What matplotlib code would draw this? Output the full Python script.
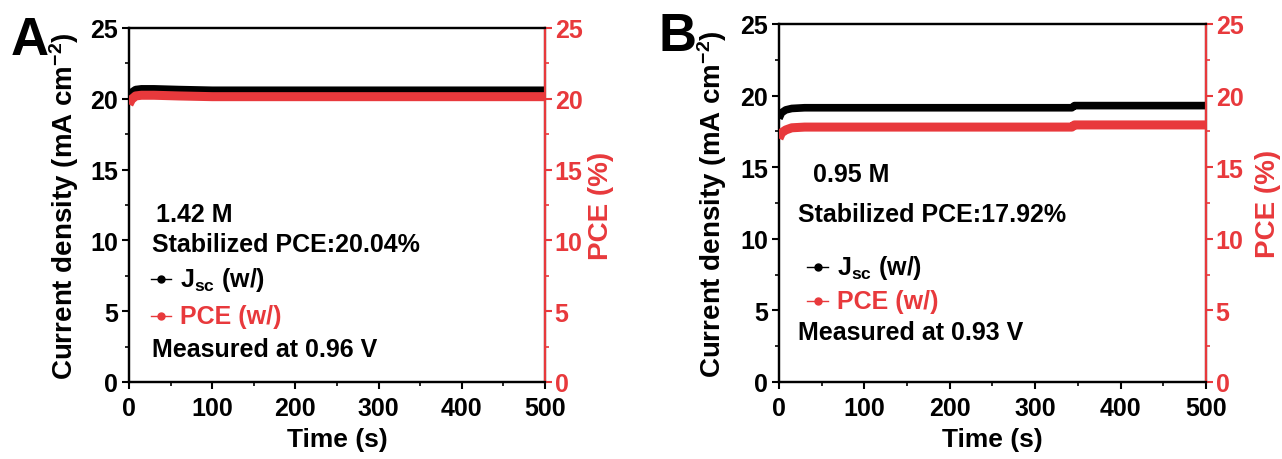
import matplotlib
matplotlib.use("Agg")
import matplotlib.pyplot as plt
from matplotlib.ticker import MultipleLocator

plt.rcParams['font.family'] = ['Liberation Sans', 'DejaVu Sans']
plt.rcParams['font.weight'] = 'bold'
plt.rcParams['mathtext.fontset'] = 'custom'
plt.rcParams['mathtext.rm'] = 'Liberation Sans:bold'
plt.rcParams['mathtext.it'] = 'Liberation Sans:bold'
plt.rcParams['mathtext.bf'] = 'Liberation Sans:bold'

RED = '#e8393c'

# panel A (1.42 M)
time_a = [0, 3, 8, 15, 30, 60, 100, 150, 200, 300, 400, 500]
jsc_a = [19.9, 20.45, 20.65, 20.7, 20.7, 20.65, 20.6, 20.6, 20.6, 20.6, 20.6, 20.6]
pce_a = [19.6, 19.95, 20.2, 20.25, 20.25, 20.2, 20.15, 20.15, 20.15, 20.15, 20.15, 20.15]

# panel B (0.95 M)
time_b = [0, 3, 8, 15, 30, 100, 200, 300, 343, 346, 400, 500]
jsc_b = [18.4, 18.8, 19.0, 19.1, 19.15, 19.15, 19.15, 19.15, 19.15, 19.3, 19.3, 19.3]
pce_b = [17.0, 17.4, 17.6, 17.75, 17.8, 17.8, 17.8, 17.8, 17.8, 17.95, 17.95, 17.95]

fig = plt.figure(figsize=(12.82, 4.6), dpi=100)


def panel(rect, t, jsc, pce, letter, letter_pos, conc, pce_txt, volt, txt_pos, ylab_x, rlab_x):
    ax = fig.add_axes(rect)
    ax2 = ax.twinx()
    ax.plot(t, jsc, color='black', lw=5.5, solid_capstyle='butt', zorder=2)
    ax2.plot(t, pce, color=RED, lw=6.5, solid_capstyle='butt', zorder=3)
    for a in (ax, ax2):
        a.set_xlim(0, 500)
        a.set_ylim(0, 25)
        a.yaxis.set_major_locator(MultipleLocator(5))
        a.yaxis.set_minor_locator(MultipleLocator(2.5))
        for s in a.spines.values():
            s.set_linewidth(1.6)
    ax.xaxis.set_major_locator(MultipleLocator(100))
    ax.xaxis.set_minor_locator(MultipleLocator(50))
    ax2.spines['right'].set_color(RED)
    ax.tick_params(which='major', direction='out', length=5, width=1.5, labelsize=18, pad=3)
    ax.tick_params(axis='x', which='major', pad=5)
    ax.tick_params(which='minor', direction='out', length=3, width=1.2)
    ax2.tick_params(which='major', direction='out', length=5, width=1.5, labelsize=18,
                    colors=RED, pad=2)
    ax2.tick_params(which='minor', direction='out', length=3, width=1.2, colors=RED)
    ax.set_xlabel('Time (s)', fontsize=19, fontweight='bold', labelpad=5)
    ax.set_ylabel('Current density (mA cm$^{-2}$)', fontsize=20, fontweight='bold')
    ax2.set_ylabel('PCE (%)', fontsize=20, fontweight='bold', color=RED)
    ax.yaxis.set_label_coords(ylab_x, 0.5)
    ax2.yaxis.set_label_coords(rlab_x, 0.5)

    (cx, cy), (sx, sy), (lx, ly1, ly2), (mx, my) = txt_pos
    ax2.text(cx, cy, conc, transform=ax.transAxes, fontsize=18, va='center')
    ax2.text(sx, sy, pce_txt, transform=ax.transAxes, fontsize=18, va='center')
    ax2.text(mx, my, volt, transform=ax.transAxes, fontsize=18, va='center')
    # legend entries
    ax2.plot([lx - 0.025, lx + 0.025], [ly1, ly1], color='black', lw=1,
             transform=ax.transAxes)
    ax2.plot([lx], [ly1], 'o', color='black', ms=5, transform=ax.transAxes)
    ax2.plot([lx - 0.025, lx + 0.025], [ly2, ly2], color=RED, lw=1, transform=ax.transAxes)
    ax2.plot([lx], [ly2], 'o', color=RED, ms=5, transform=ax.transAxes)
    ax2.text(lx + 0.045, ly1, r'J$_{sc}$ (w/)', transform=ax.transAxes, fontsize=18,
             va='center')
    ax2.text(lx + 0.045, ly2, 'PCE (w/)', transform=ax.transAxes, fontsize=18,
             va='center', color=RED)
    fig.text(letter_pos[0], letter_pos[1], letter, fontsize=38, fontweight='bold',
             va='center')
    return ax


panel([0.1006, 0.1674, 0.3245, 0.7696], time_a, jsc_a, pce_a, 'A', (0.008, 0.91), '1.42 M',
      'Stabilized PCE:20.04%', 'Measured at 0.96 V',
      [(0.065, 0.475), (0.055, 0.39), (0.077, 0.291, 0.186), (0.055, 0.093)],
      -0.115, 1.103)
panel([0.6076, 0.1674, 0.3331, 0.7783], time_b, jsc_b, pce_b, 'B', (0.514, 0.92), '0.95 M',
      'Stabilized PCE:17.92%', 'Measured at 0.93 V',
      [(0.080, 0.581), (0.044, 0.469), (0.091, 0.321, 0.226), (0.044, 0.14)],
      -0.117, 1.115)

fig.savefig('out.png', dpi=100)
